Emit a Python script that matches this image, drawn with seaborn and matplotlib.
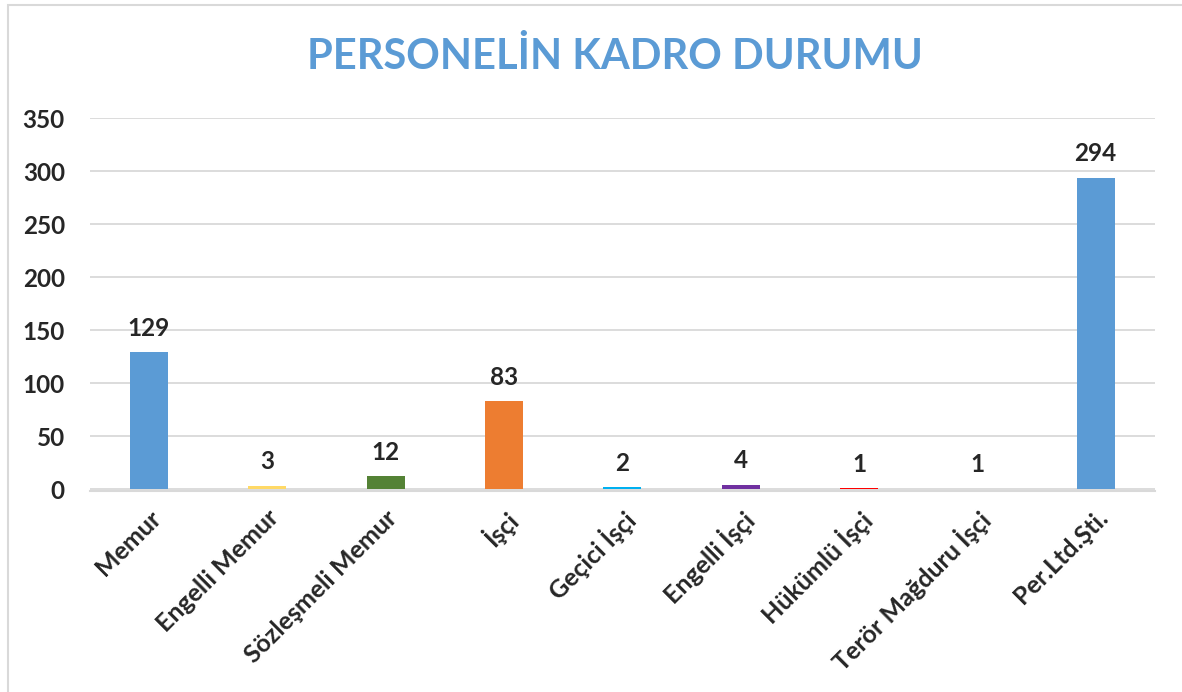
import matplotlib
matplotlib.use("Agg")
import matplotlib.pyplot as plt
import seaborn as sns
import pandas as pd
from matplotlib.patches import Rectangle

categories = ["Memur", "Engelli Memur", "Sözleşmeli Memur", "İşçi", "Geçici İşçi",
              "Engelli İşçi", "Hükümlü İşçi", "Terör Mağduru İşçi", "Per.Ltd.Şti."]
values = [129, 3, 12, 83, 2, 4, 1, 1, 294]
colors = ["#5B9BD5", "#FFD966", "#548235", "#ED7D31", "#00B0F0",
          "#7030A0", "#FF0000", "#FFFFFF", "#5B9BD5"]
yticks = [0, 50, 100, 150, 200, 250, 300, 350]
title = "PERSONELİN KADRO DURUMU"

sns.set_theme(style="white")
plt.rcParams['font.family'] = ['Lato', 'DejaVu Sans']

df = pd.DataFrame({"cat": categories, "val": values})

fig = plt.figure(figsize=(11.82, 6.92), dpi=100)
ax = fig.add_axes([0.076, 0.291, 0.901, 0.538])
sns.barplot(data=df, x="cat", y="val", hue="cat", palette=colors, legend=False,
            width=0.32, ax=ax, saturation=1, linewidth=0, edgecolor="none",
            zorder=3)
# the white bar is invisible on the white background in the reference
for p in ax.patches:
    fc = p.get_facecolor()
    if fc[0] > 0.99 and fc[1] > 0.99 and fc[2] > 0.99:
        p.set_alpha(0)

ax.set_ylim(-1.4, 350)
ax.set_yticks(yticks)
ax.set_yticklabels([str(t) for t in yticks], fontsize=17.5, fontweight="bold")
ax.yaxis.grid(True, color="#D9D9D9", linewidth=1.3)
ax.set_axisbelow(True)
for s in ["top", "right", "left"]:
    ax.spines[s].set_visible(False)
ax.spines["bottom"].set_color("#D9D9D9")
ax.spines["bottom"].set_linewidth(1.5)
ax.spines["bottom"].set_zorder(0.5)
ax.tick_params(axis="both", length=0)
ax.set_xlabel("")
ax.set_ylabel("")
ax.set_xticks(range(len(categories)))
ax.set_xticklabels(categories, rotation=45, ha="right", rotation_mode="anchor",
                   fontsize=18, fontweight="bold")
ax.tick_params(axis="x", pad=11)
ax.tick_params(axis="y", pad=18)

for i, v in enumerate(values):
    ax.annotate(str(v), (i, v), xytext=(0, 9), textcoords="offset points",
                ha="center", va="bottom", fontsize=17.5, fontweight="bold")

fig.text(0.52, 0.918, title, ha="center", va="center", fontsize=30,
         fontweight="bold", color="#5B9BD5")

fig.patches.append(Rectangle((8/1182, -0.05), 1.1, 1 - 5/692 + 0.05,
                             transform=fig.transFigure, fill=False,
                             edgecolor="#D9D9D9", linewidth=1.5))

fig.savefig("out.png", dpi=100, facecolor="white")
